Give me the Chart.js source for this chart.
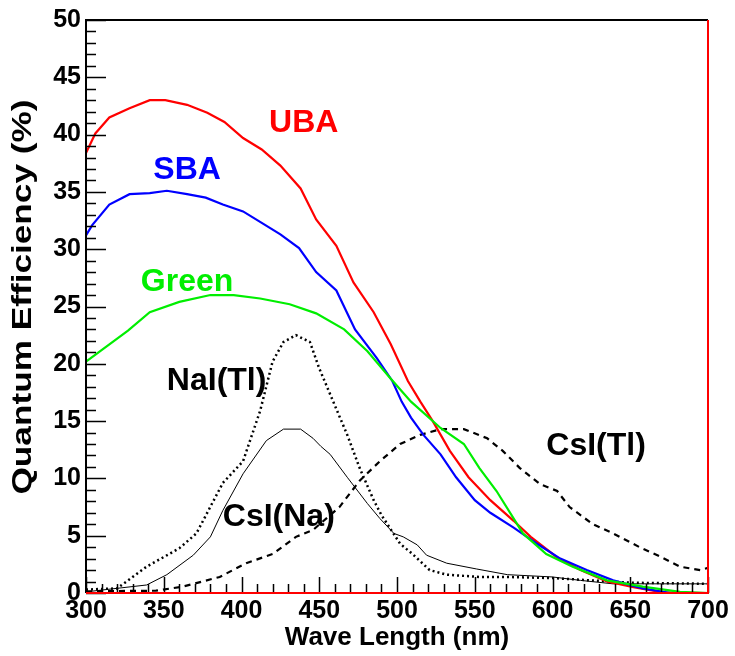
<!DOCTYPE html>
<html>
<head>
<meta charset="utf-8">
<script src="https://cdn.jsdelivr.net/npm/chart.js@4.4.0/dist/chart.umd.min.js"></script>
<style>
  html, body { margin: 0; padding: 0; background: #fff; }
</style>
</head>
<body>
<canvas id="qeChart" width="735" height="656"></canvas>
<script>
// spectra (wavelength in nm, QE / emission in %)
const ubaX = [300, 306, 315, 328, 341, 351, 365, 378, 389, 401, 413, 425, 438, 448, 461, 472, 485, 496, 507, 515, 523, 534, 546, 560, 575, 586, 603, 618, 635, 652, 671, 700];
const ubaY = [38.4, 40.1, 41.5, 42.3, 43.0, 43.0, 42.6, 41.9, 41.1, 39.7, 38.7, 37.3, 35.3, 32.6, 30.3, 27.1, 24.5, 21.7, 18.5, 16.7, 15.0, 12.4, 10.1, 8.1, 6.3, 4.9, 3.1, 2.0, 1.0, 0.5, 0.05, 0];

const sbaX = [300, 304, 315, 328, 341, 352, 365, 377, 388, 401, 413, 425, 437, 448, 461, 473, 487, 497, 503, 509, 517, 528, 538, 550, 560, 575, 590, 605, 622, 639, 658, 676, 700];
const sbaY = [31.2, 32.1, 33.9, 34.8, 34.9, 35.1, 34.8, 34.5, 33.9, 33.3, 32.3, 31.3, 30.1, 28.0, 26.4, 23.0, 20.5, 18.5, 16.7, 15.3, 13.8, 12.1, 10.1, 8.1, 7.0, 5.7, 4.3, 3.0, 2.0, 1.1, 0.4, 0, 0];

const greenX = [300, 327, 341, 360, 380, 395, 412, 431, 448, 466, 481, 496, 509, 528, 543, 553, 564, 581, 596, 613, 635, 658, 682, 700];
const greenY = [20.2, 22.9, 24.5, 25.4, 26.0, 26.0, 25.7, 25.2, 24.4, 23.0, 21.1, 18.7, 16.7, 14.4, 13.0, 10.9, 8.9, 5.2, 3.4, 2.3, 1.1, 0.55, 0.1, 0];

const naiX = [300, 320, 339, 360, 371, 388, 401, 412, 420, 427, 435, 444, 450, 459, 468, 476, 485, 490, 502, 510, 521, 532, 553, 570, 600, 650, 700];
const naiY = [0.3, 0.4, 2.3, 3.9, 5.2, 9.6, 11.5, 15.9, 20.2, 21.9, 22.5, 21.9, 19.6, 16.7, 13.8, 10.9, 8.1, 6.8, 4.3, 3.4, 2.0, 1.6, 1.4, 1.4, 1.3, 0.9, 0.8];

const csiNaX = [300, 339, 352, 369, 380, 388, 401, 416, 427, 438, 446, 451, 457, 468, 481, 489, 498, 504, 513, 519, 532, 551, 571, 600, 618, 639, 700];
const csiNaY = [0.1, 0.7, 1.6, 3.3, 4.9, 7.2, 10.4, 13.3, 14.3, 14.3, 13.5, 12.8, 12.1, 10.1, 7.8, 6.5, 5.2, 4.9, 4.2, 3.3, 2.6, 2.1, 1.6, 1.4, 1.1, 0.8, 0.8];

const csiTlX = [300, 345, 362, 386, 403, 420, 435, 446, 463, 476, 489, 502, 515, 528, 543, 558, 568, 579, 592, 603, 611, 626, 639, 656, 669, 682, 695, 700];
const csiTlY = [0.15, 0.2, 0.55, 1.4, 2.6, 3.4, 4.9, 5.5, 7.5, 9.8, 11.5, 13.0, 13.8, 14.3, 14.3, 13.5, 12.4, 10.9, 9.5, 8.9, 7.5, 6.0, 5.2, 4.0, 3.2, 2.3, 2.0, 2.2];

// curve captions, placed in data coordinates
const captions = [
  { text: 'UBA',     x: 440, y: 41.0, color: '#ff0000' },
  { text: 'SBA',     x: 365, y: 36.9, color: '#0000ff' },
  { text: 'Green',   x: 365, y: 27.1, color: '#00ee00' },
  { text: 'NaI(Tl)', x: 384, y: 18.5, color: '#000000' },
  { text: 'CsI(Na)', x: 424, y: 6.6,  color: '#000000' },
  { text: 'CsI(Tl)', x: 628, y: 12.8, color: '#000000' }
];

const FONT = 'Liberation Sans, Arial, Helvetica, sans-serif';

function pts(xs, ys) {
  return xs.map((x, i) => ({ x: x, y: ys[i] }));
}

function line(label, xs, ys, color, width, dash) {
  return {
    label: label,
    data: pts(xs, ys),
    borderColor: color,
    borderWidth: width,
    borderDash: dash || [],
    pointRadius: 0,
    tension: 0,
    fill: false
  };
}

// inward ticks, frame and text that Chart.js does not draw itself
const rootStyle = {
  id: 'rootStyle',
  afterDatasetsDraw(chart) {
    const { ctx, chartArea: a, scales: { x, y } } = chart;
    ctx.save();

    // captions
    ctx.font = 'bold 32px ' + FONT;
    ctx.textAlign = 'center';
    ctx.textBaseline = 'middle';
    captions.forEach(c => {
      ctx.fillStyle = c.color;
      ctx.fillText(c.text, x.getPixelForValue(c.x), y.getPixelForValue(c.y));
    });

    // ticks
    ctx.strokeStyle = '#000';
    ctx.lineWidth = 1.5;
    ctx.beginPath();
    for (let v = 0; v <= 50; v += 1) {
      const py = Math.round(y.getPixelForValue(v)) + 0.5;
      const len = v % 5 === 0 ? 20 : 10;
      ctx.moveTo(a.left, py);
      ctx.lineTo(a.left + len, py);
    }
    for (let v = 300; v <= 700; v += 10) {
      const px = Math.round(x.getPixelForValue(v)) + 0.5;
      const len = v % 50 === 0 ? 16 : 9;
      ctx.moveTo(px, a.bottom);
      ctx.lineTo(px, a.bottom - len);
    }
    ctx.stroke();

    // frame: black left and top, red bottom and right
    ctx.lineWidth = 2;
    ctx.strokeStyle = '#000';
    ctx.beginPath();
    ctx.moveTo(a.left, a.bottom);
    ctx.lineTo(a.left, a.top);
    ctx.lineTo(a.right, a.top);
    ctx.stroke();
    ctx.strokeStyle = '#ff0000';
    ctx.beginPath();
    ctx.moveTo(a.left, a.bottom);
    ctx.lineTo(a.right, a.bottom);
    ctx.lineTo(a.right, a.top);
    ctx.stroke();

    // y title, stretched along its length like the original
    const title = 'Quantum Efficiency (%)';
    ctx.font = 'bold 27px ' + FONT;
    ctx.fillStyle = '#000';
    const w = ctx.measureText(title).width;
    ctx.translate(24, 297);
    ctx.rotate(-Math.PI / 2);
    ctx.scale(395 / w, 1);
    ctx.fillText(title, 0, 0);
    ctx.restore();
  }
};

new Chart(document.getElementById('qeChart'), {
  type: 'line',
  data: {
    datasets: [
      line('Green', greenX, greenY, '#00ee00', 2.2),
      line('SBA', sbaX, sbaY, '#0000ff', 2.2),
      line('UBA', ubaX, ubaY, '#ff0000', 2.2),
      line('NaI(Tl)', naiX, naiY, '#000000', 2.5, [2, 3]),
      line('CsI(Na)', csiNaX, csiNaY, '#000000', 1),
      line('CsI(Tl)', csiTlX, csiTlY, '#000000', 2.2, [6, 5])
    ]
  },
  options: {
    responsive: false,
    devicePixelRatio: 1,
    animation: false,
    layout: { padding: { left: 0, right: 27, top: 16, bottom: 0 } },
    plugins: {
      legend: { display: false },
      tooltip: { enabled: false }
    },
    scales: {
      x: {
        type: 'linear',
        min: 300,
        max: 700,
        afterFit: s => { s.height = 63; },
        grid: { display: false, drawTicks: false },
        border: { display: false },
        ticks: {
          stepSize: 50,
          padding: 3,
          color: '#000',
          font: { family: FONT, size: 25, weight: 'bold' }
        },
        title: {
          display: true,
          text: 'Wave Length (nm)',
          color: '#000',
          padding: { top: 0, bottom: 3 },
          font: { family: FONT, size: 26, weight: 'bold' }
        }
      },
      y: {
        min: 0,
        max: 50,
        afterFit: s => { s.width = 86; },
        grid: { display: false, drawTicks: false },
        border: { display: false },
        ticks: {
          stepSize: 5,
          padding: 5,
          color: '#000',
          font: { family: FONT, size: 25, weight: 'bold' }
        }
      }
    }
  },
  plugins: [rootStyle]
});
</script>
</body>
</html>
